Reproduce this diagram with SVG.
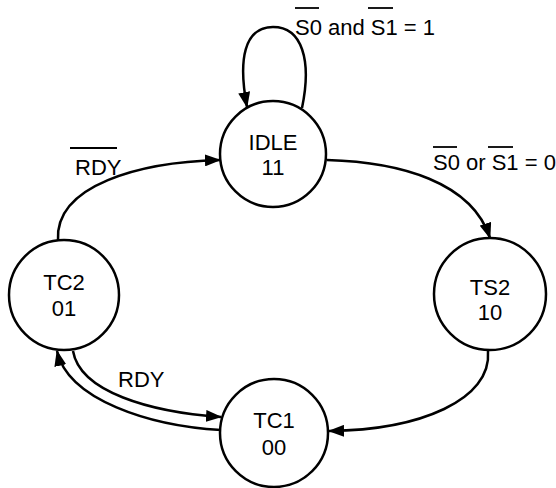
<svg xmlns="http://www.w3.org/2000/svg" width="556" height="488" viewBox="0 0 556 488">
<style>
.st{fill:#fff;stroke:#000;stroke-width:2.5}
.c{fill:none;stroke:#000;stroke-width:2.5}
.t{font-family:"Liberation Sans",Arial,sans-serif;font-size:22px;fill:#000}
.ol{stroke:#000;stroke-width:1.8}
</style>
<defs>
<marker id="ah" markerWidth="16" markerHeight="12" refX="15" refY="6" orient="auto" markerUnits="userSpaceOnUse">
<path d="M0,0 L16,6 L0,12 Z" fill="#000"/>
</marker>
</defs>
<rect width="556" height="488" fill="#fff"/>
<g id="connectors">
<path class="c" d="M302,108 C312,60 302,27 273,27 C244,27 238,60 247,107" marker-end="url(#ah)"/>
<path class="c" d="M58,240 C55,185 140,162 220,160" marker-end="url(#ah)"/>
<path class="c" d="M327,160 C400,162 472,182 490,238" marker-end="url(#ah)"/>
<path class="c" d="M488,351 C492,400 420,430 329,431" marker-end="url(#ah)"/>
<path class="c" d="M73,351 C80,392 150,412 221,417" marker-end="url(#ah)"/>
<path class="c" d="M221,430 C150,426 68,400 57,351" marker-end="url(#ah)"/>
</g>
<g id="IDLE">
<circle class="st" cx="273" cy="154" r="53"/>
<text class="t" x="273" y="150" text-anchor="middle">IDLE</text>
<text class="t" x="273" y="175" text-anchor="middle">11</text>
</g>
<g id="TC2">
<circle class="st" cx="64" cy="295" r="55"/>
<text class="t" x="64" y="290" text-anchor="middle">TC2</text>
<text class="t" x="64" y="316" text-anchor="middle">01</text>
</g>
<g id="TS2">
<circle class="st" cx="490" cy="294" r="56"/>
<text class="t" x="490" y="295" text-anchor="middle">TS2</text>
<text class="t" x="490" y="320" text-anchor="middle">10</text>
</g>
<g id="TC1">
<circle class="st" cx="274" cy="433" r="54"/>
<text class="t" x="274" y="428" text-anchor="middle">TC1</text>
<text class="t" x="274" y="455" text-anchor="middle">00</text>
</g>
<g id="labels">
<text class="t" x="295" y="35">S0 and S1 = 1</text>
<line class="ol" x1="295" y1="8" x2="319" y2="8"/>
<line class="ol" x1="368" y1="8" x2="393" y2="8"/>
<text class="t" x="433" y="170">S0 or S1 = 0</text>
<line class="ol" x1="433" y1="147" x2="457" y2="147"/>
<line class="ol" x1="488" y1="147" x2="513" y2="147"/>
<text class="t" x="75" y="175">RDY</text>
<line class="ol" x1="70" y1="148" x2="117" y2="148"/>
<text class="t" x="118" y="387">RDY</text>
</g>
</svg>
